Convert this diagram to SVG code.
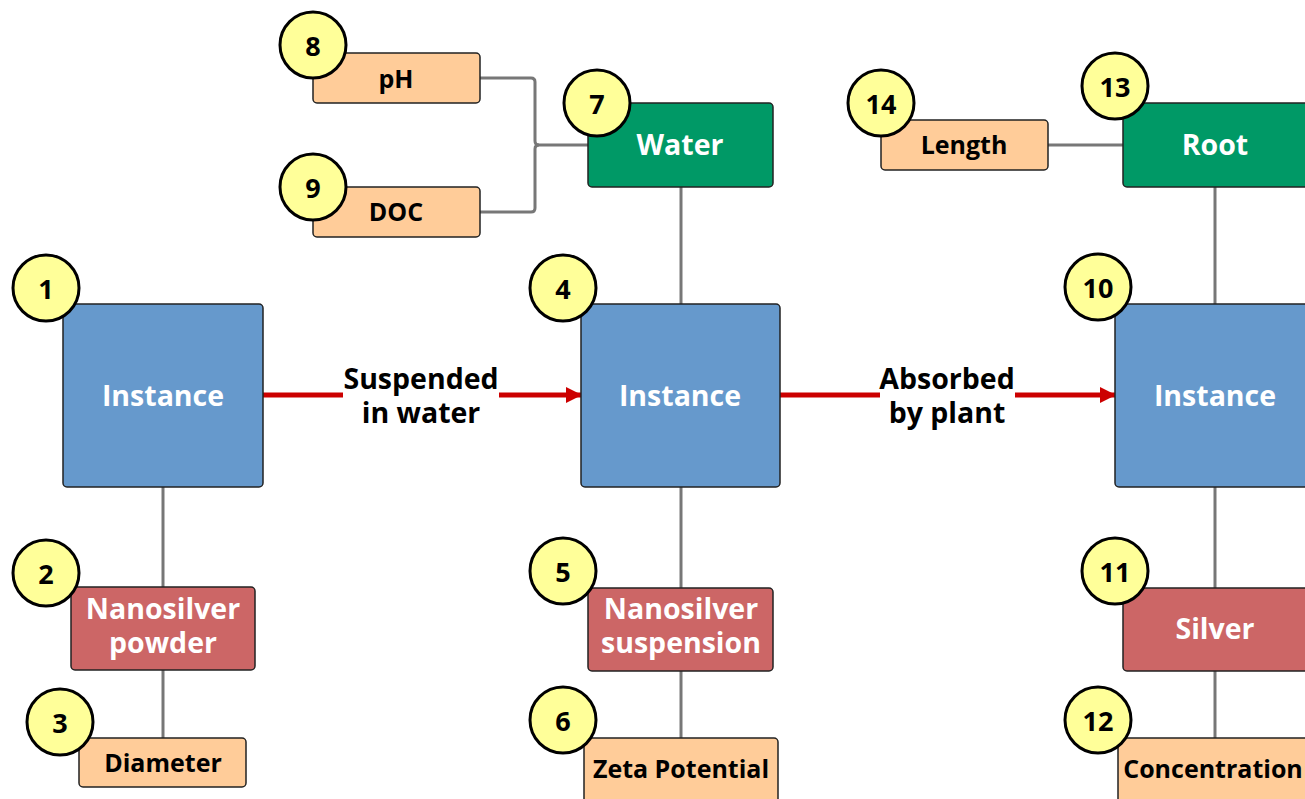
<svg xmlns="http://www.w3.org/2000/svg" width="1305" height="799" viewBox="0 0 1305 799">
<defs>
<style>
text{font-family:"Open Sans","Noto Sans","DejaVu Sans",sans-serif;font-weight:bold;text-anchor:middle;dominant-baseline:central}
.inst{fill:#6699cc;stroke:#222;stroke-width:1.5}
.grn{fill:#009966;stroke:#222;stroke-width:1.5}
.red{fill:#cc6666;stroke:#222;stroke-width:1.5}
.org{fill:#ffcc99;stroke:#222;stroke-width:1.5}
.badge{fill:#ffff99;stroke:#000;stroke-width:3}
.w{fill:#fff;font-size:28.5px}
.b{fill:#000;font-size:25px}
.n{fill:#000;font-size:27px}
.lbl{fill:#000;font-size:28.5px}
.con{stroke:#777;stroke-width:3;fill:none}
.arr{stroke:#cc0000;stroke-width:5;fill:none}
</style>
<marker id="ah" markerWidth="16" markerHeight="16" refX="15" refY="8" orient="auto" markerUnits="userSpaceOnUse">
<path d="M0,0 L16,8 L0,16 Z" fill="#cc0000"/>
</marker>
</defs>
<rect width="1305" height="799" fill="#fff"/>
<g id="connectors">
<line class="con" x1="163" y1="487" x2="163" y2="587"/>
<line class="con" x1="163" y1="670" x2="163" y2="738"/>
<line class="con" x1="681" y1="187" x2="681" y2="304"/>
<line class="con" x1="681" y1="487" x2="681" y2="588"/>
<line class="con" x1="681" y1="671" x2="681" y2="738"/>
<line class="con" x1="1215" y1="187" x2="1215" y2="304"/>
<line class="con" x1="1215" y1="487" x2="1215" y2="588"/>
<line class="con" x1="1215" y1="671" x2="1215" y2="738"/>
<line class="con" x1="1048" y1="145" x2="1123" y2="145"/>
<path class="con" d="M480,78 H531 Q535,78 535,82 V141 Q535,145 539,145 H588"/>
<path class="con" d="M480,212 H531 Q535,212 535,208 V149 Q535,145 539,145"/>
<line class="arr" x1="263" y1="395" x2="343" y2="395"/>
<line class="arr" x1="499" y1="395" x2="581" y2="395" marker-end="url(#ah)"/>
<line class="arr" x1="780" y1="395" x2="880" y2="395"/>
<line class="arr" x1="1015" y1="395" x2="1115" y2="395" marker-end="url(#ah)"/>
<text class="lbl" x="421" y="378">Suspended</text>
<text class="lbl" x="421" y="412">in water</text>
<text class="lbl" x="947" y="378">Absorbed</text>
<text class="lbl" x="947" y="412">by plant</text>
</g>
<g id="n1"><rect class="inst" x="63" y="304" width="200" height="183" rx="4"/><text class="w" x="163" y="395">Instance</text><circle class="badge" cx="46" cy="288" r="33"/><text class="n" x="46" y="288">1</text></g>
<g id="n2"><rect class="red" x="71" y="587" width="184" height="83" rx="4"/><text class="w" x="163" y="608">Nanosilver</text><text class="w" x="163" y="642">powder</text><circle class="badge" cx="46" cy="573" r="33"/><text class="n" x="46" y="573">2</text></g>
<g id="n3"><rect class="org" x="79" y="738" width="167" height="49" rx="4"/><text class="b" x="163" y="762">Diameter</text><circle class="badge" cx="60" cy="722" r="33"/><text class="n" x="60" y="722">3</text></g>
<g id="n4"><rect class="inst" x="581" y="304" width="199" height="183" rx="4"/><text class="w" x="680" y="395">Instance</text><circle class="badge" cx="563" cy="288" r="33"/><text class="n" x="563" y="288">4</text></g>
<g id="n5"><rect class="red" x="588" y="588" width="185" height="83" rx="4"/><text class="w" x="681" y="608">Nanosilver</text><text class="w" x="681" y="642">suspension</text><circle class="badge" cx="563" cy="571" r="33"/><text class="n" x="563" y="571">5</text></g>
<g id="n6"><rect class="org" x="584" y="738" width="194" height="70" rx="4"/><text class="b" x="681" y="768">Zeta Potential</text><circle class="badge" cx="563" cy="720" r="33"/><text class="n" x="563" y="720">6</text></g>
<g id="n7"><rect class="grn" x="588" y="103" width="185" height="84" rx="4"/><text class="w" x="680" y="144">Water</text><circle class="badge" cx="597" cy="103" r="33"/><text class="n" x="597" y="103">7</text></g>
<g id="n8"><rect class="org" x="313" y="53" width="167" height="50" rx="4"/><text class="b" x="396" y="78">pH</text><circle class="badge" cx="313" cy="45" r="33"/><text class="n" x="313" y="45">8</text></g>
<g id="n9"><rect class="org" x="313" y="187" width="167" height="50" rx="4"/><text class="b" x="396" y="211">DOC</text><circle class="badge" cx="313" cy="187" r="33"/><text class="n" x="313" y="187">9</text></g>
<g id="n10"><rect class="inst" x="1115" y="304" width="200" height="183" rx="4"/><text class="w" x="1215" y="395">Instance</text><circle class="badge" cx="1098" cy="287" r="33"/><text class="n" x="1098" y="287">10</text></g>
<g id="n11"><rect class="red" x="1123" y="588" width="190" height="83" rx="4"/><text class="w" x="1215" y="628">Silver</text><circle class="badge" cx="1115" cy="571" r="33"/><text class="n" x="1115" y="571">11</text></g>
<g id="n12"><rect class="org" x="1118" y="738" width="200" height="70" rx="4"/><text class="b" x="1213" y="768">Concentration</text><circle class="badge" cx="1098" cy="720" r="33"/><text class="n" x="1098" y="720">12</text></g>
<g id="n13"><rect class="grn" x="1123" y="103" width="190" height="84" rx="4"/><text class="w" x="1215" y="144">Root</text><circle class="badge" cx="1115" cy="86" r="33"/><text class="n" x="1115" y="86">13</text></g>
<g id="n14"><rect class="org" x="881" y="120" width="167" height="50" rx="4"/><text class="b" x="964" y="144">Length</text><circle class="badge" cx="881" cy="103" r="33"/><text class="n" x="881" y="103">14</text></g>
</svg>
